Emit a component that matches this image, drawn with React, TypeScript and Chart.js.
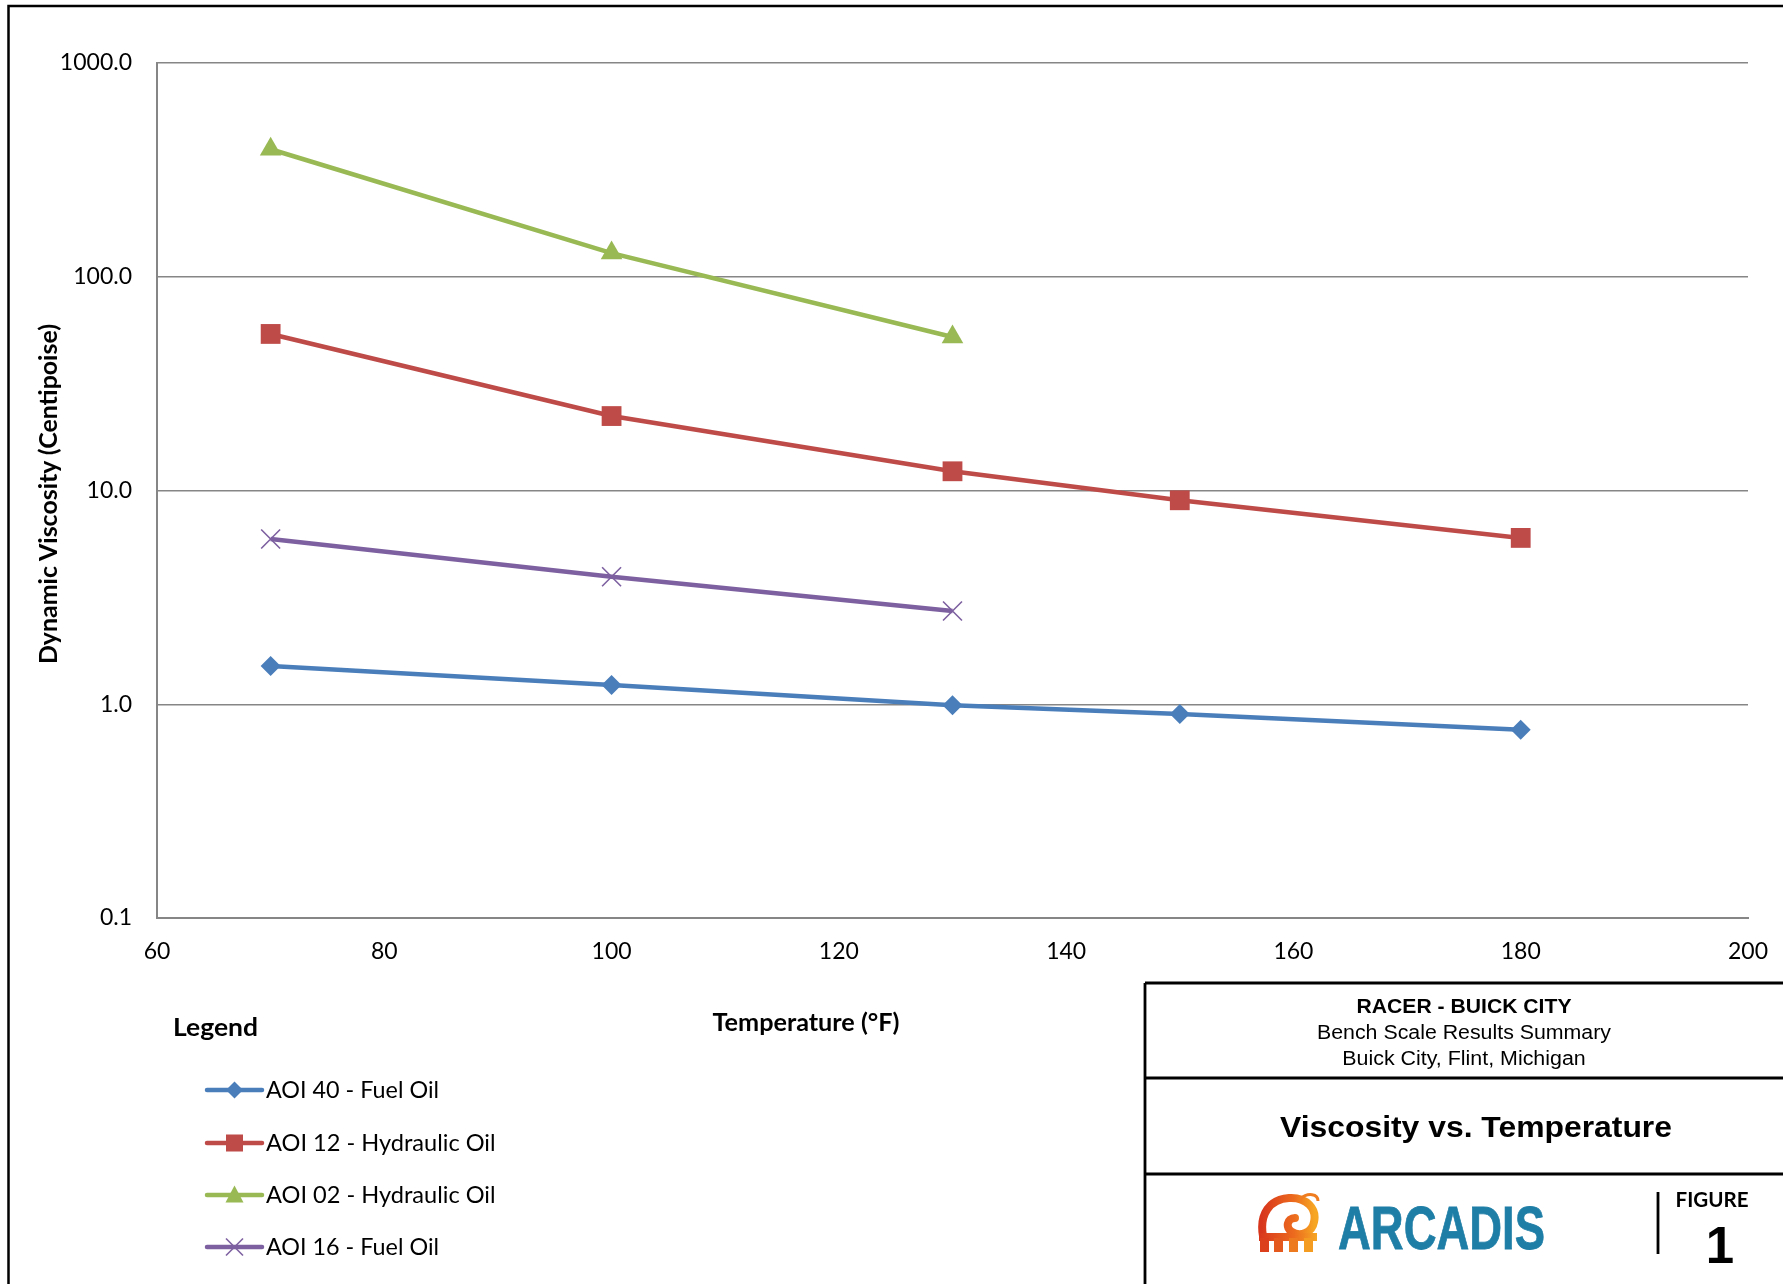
import React, { useEffect, useRef } from "react";
import { Chart, registerables } from "chart.js";

Chart.register(...registerables);

// ---------------- data ----------------
const temperatures = [70, 100, 130, 150, 180];
const aoi40FuelOil = [1.51, 1.23, 0.99, 0.9, 0.76];
const aoi12HydraulicOil = [54, 22.3, 12.3, 9.0, 6.0];
const aoi02HydraulicOil = [395, 129, 52.3];
const aoi16FuelOil = [5.93, 3.95, 2.73];

const seriesNames = [
  "AOI 40 - Fuel Oil",
  "AOI 12 - Hydraulic Oil",
  "AOI 02 - Hydraulic Oil",
  "AOI 16 - Fuel Oil",
];
const seriesValues = [aoi40FuelOil, aoi12HydraulicOil, aoi02HydraulicOil, aoi16FuelOil];

const yTickValues = [0.1, 1, 10, 100, 1000];
const xTickMin = 60;
const xTickMax = 200;
const xTickStep = 20;

const xAxisTitle = "Temperature (°F)";
const yAxisTitle = "Dynamic Viscosity (Centipoise)";
const legendTitle = "Legend";
const titleLines = ["RACER - BUICK CITY", "Bench Scale Results Summary", "Buick City, Flint, Michigan"];
const chartTitle = "Viscosity vs. Temperature";
const figureLabel = "FIGURE";
const figureNumber = "1";
const companyName = "ARCADIS";

// ---------------- styles ----------------
const seriesColors = ["#4A7EBB", "#BE4B48", "#98B954", "#7D60A0"];
const seriesPointStyles = ["rectRot", "rect", "triangle", "crossRot"];
const seriesPointRadius = [10, 14, 12.5, 13.4];
const FONT = "Lato, 'Open Sans', sans-serif";
const ARIAL = "'Liberation Sans', Arial, sans-serif";
const GRID = "#868686";

function LegendMarker({ style, color, cx, cy }: { style: string; color: string; cx: number; cy: number }) {
  const s = 8.5;
  if (style === "rectRot") {
    return <polygon points={`${cx - s},${cy} ${cx},${cy - s} ${cx + s},${cy} ${cx},${cy + s}`} fill={color} />;
  }
  if (style === "rect") {
    return <rect x={cx - s} y={cy - s} width={2 * s} height={2 * s} fill={color} />;
  }
  if (style === "triangle") {
    return <polygon points={`${cx},${cy - s - 1} ${cx + s + 0.5},${cy + s - 1} ${cx - s - 0.5},${cy + s - 1}`} fill={color} />;
  }
  return (
    <g stroke={color} strokeWidth={1.6}>
      <line x1={cx - s} y1={cy - s} x2={cx + s} y2={cy + s} />
      <line x1={cx - s} y1={cy + s} x2={cx + s} y2={cy - s} />
    </g>
  );
}

export default function App() {
  const canvasRef = useRef<HTMLCanvasElement | null>(null);

  useEffect(() => {
    if (!canvasRef.current) return;
    const datasets = seriesNames.map((name, i) => ({
      label: name,
      data: seriesValues[i].map((v, j) => ({ x: temperatures[j], y: v })),
      showLine: true,
      borderColor: seriesColors[i],
      backgroundColor: seriesColors[i],
      borderWidth: 4.6,
      pointStyle: seriesPointStyles[i] as any,
      pointRadius: seriesPointRadius[i],
      pointBorderWidth: seriesPointStyles[i] === "crossRot" ? 1.6 : 0,
      pointBorderColor: seriesColors[i],
      pointBackgroundColor: seriesColors[i],
      tension: 0,
    }));

    const chart = new Chart(canvasRef.current, {
      type: "scatter",
      data: { datasets },
      options: {
        responsive: false,
        maintainAspectRatio: false,
        animation: false,
        layout: { padding: { left: 0, top: 63, right: 35, bottom: 286 } },
        plugins: { legend: { display: false }, tooltip: { enabled: false }, title: { display: false } },
        scales: {
          x: {
            type: "linear",
            min: xTickMin,
            max: xTickMax,
            ticks: {
              stepSize: xTickStep,
              color: "#000",
              font: { family: FONT, size: 23 },
              padding: 20,
              maxRotation: 0,
            },
            grid: { display: false, drawTicks: false },
            border: { display: true, color: GRID, width: 2 },
            afterFit: (s: any) => {
              s.height = 80;
              s.paddingLeft = 0;
              s.paddingRight = 0;
            },
          },
          y: {
            type: "logarithmic",
            min: yTickValues[0],
            max: yTickValues[yTickValues.length - 1],
            afterBuildTicks: (s: any) => {
              s.ticks = yTickValues.map((v) => ({ value: v }));
            },
            ticks: {
              color: "#000",
              font: { family: FONT, size: 23 },
              padding: 25,
              callback: (v: any) => Number(v).toFixed(1),
            },
            grid: { color: GRID, lineWidth: 1.5, drawTicks: false },
            border: { display: true, color: GRID, width: 2 },
            afterFit: (s: any) => {
              s.width = 157;
              s.paddingTop = 0;
              s.paddingBottom = 0;
            },
          },
        },
      },
    });
    return () => chart.destroy();
  }, []);

  const legendRowY = [1090, 1143, 1195, 1247];
  const legendTextLen = [173, 229.6, 229.6, 173];

  return (
    <div style={{ position: "absolute", left: 0, top: 0, width: 1783, height: 1284, overflow: "hidden", background: "#fff" }}>
      <canvas ref={canvasRef} width={1783} height={1284} style={{ position: "absolute", left: 0, top: 0, width: 1783, height: 1284 }} />
      <svg width={1783} height={1284} style={{ position: "absolute", left: 0, top: 0, pointerEvents: "none" }}>
        <defs>
          <linearGradient id="logoGrad" x1="0" y1="0" x2="1" y2="0">
            <stop offset="0" stopColor="#d8361c" />
            <stop offset="0.6" stopColor="#ec6a1e" />
            <stop offset="1" stopColor="#f6a623" />
          </linearGradient>
        </defs>
        {/* outer frame */}
        <rect x={8.5} y={6} width={1820} height={1320} fill="none" stroke="#000" strokeWidth={2.5} />

        {/* axis titles */}
        <text
          transform="translate(56.5, 494) rotate(-90)"
          textAnchor="middle"
          fontFamily={FONT}
          fontWeight="bold"
          fontSize={24}
          textLength={340}
          lengthAdjust="spacingAndGlyphs"
          fill="#000"
        >
          {yAxisTitle}
        </text>
        <text x={806} y={1031} textAnchor="middle" fontFamily={FONT} fontWeight="bold" fontSize={24} textLength={187} lengthAdjust="spacingAndGlyphs" fill="#000">
          {xAxisTitle}
        </text>

        {/* legend */}
        <text x={173} y={1036} fontFamily={FONT} fontWeight="bold" fontSize={25} textLength={85} lengthAdjust="spacingAndGlyphs" fill="#000">
          {legendTitle}
        </text>
        {seriesNames.map((name, i) => (
          <g key={name}>
            <line x1={207} y1={legendRowY[i]} x2={262} y2={legendRowY[i]} stroke={seriesColors[i]} strokeWidth={4.5} strokeLinecap="round" />
            <LegendMarker style={seriesPointStyles[i]} color={seriesColors[i]} cx={234.5} cy={legendRowY[i]} />
            <text x={266} y={legendRowY[i] + 8.3} fontFamily={FONT} fontSize={23} textLength={legendTextLen[i]} lengthAdjust="spacingAndGlyphs" fill="#000">
              {name}
            </text>
          </g>
        ))}

        {/* title block */}
        <g stroke="#000" strokeWidth={2.8}>
          <line x1={1145} y1={983} x2={1145} y2={1300} />
          <line x1={1145} y1={983} x2={1800} y2={983} />
          <line x1={1145} y1={1078} x2={1800} y2={1078} />
          <line x1={1145} y1={1174} x2={1800} y2={1174} />
          <line x1={1658} y1={1192} x2={1658} y2={1254} />
        </g>
        <text x={1464} y={1013} textAnchor="middle" fontFamily={ARIAL} fontWeight="bold" fontSize={20} textLength={215} lengthAdjust="spacingAndGlyphs" fill="#000">
          {titleLines[0]}
        </text>
        <text x={1464} y={1039} textAnchor="middle" fontFamily={ARIAL} fontSize={20} textLength={294} lengthAdjust="spacingAndGlyphs" fill="#000">
          {titleLines[1]}
        </text>
        <text x={1464} y={1065} textAnchor="middle" fontFamily={ARIAL} fontSize={20} textLength={243.5} lengthAdjust="spacingAndGlyphs" fill="#000">
          {titleLines[2]}
        </text>
        <text x={1476} y={1136.5} textAnchor="middle" fontFamily={ARIAL} fontWeight="bold" fontSize={30} textLength={392} lengthAdjust="spacingAndGlyphs" fill="#000">
          {chartTitle}
        </text>
        <text x={1712} y={1207} textAnchor="middle" fontFamily={FONT} fontWeight="bold" fontSize={20} textLength={73} lengthAdjust="spacingAndGlyphs" fill="#000">
          {figureLabel}
        </text>
        <text x={1720} y={1263} textAnchor="middle" fontFamily={ARIAL} fontWeight="bold" fontSize={51} fill="#000">
          {figureNumber}
        </text>

        {/* logo */}
        <g>
          <path
            d="M1263 1236 C1259 1214 1270 1199 1289 1198 C1307 1197 1317 1209 1314 1222 C1312 1233 1300 1237 1292 1232 C1285 1228 1287 1218 1295 1218"
            fill="none"
            stroke="url(#logoGrad)"
            strokeWidth={8}
            strokeLinecap="round"
          />
          <path d="M1300 1199 C1308 1192 1318 1194 1318 1201" fill="none" stroke="#ef7d20" strokeWidth={3} />
          <rect x={1259} y={1233} width={58} height={8} fill="url(#logoGrad)" />
          <rect x={1260} y={1238} width={9} height={14} fill="#db3f1c" />
          <rect x={1274} y={1238} width={9} height={14} fill="#e45a1e" />
          <rect x={1289} y={1238} width={9} height={14} fill="#ee7a1f" />
          <rect x={1304} y={1238} width={9} height={14} fill="#f49b22" />
          <text x={1338} y={1249} fontFamily="'Liberation Sans Narrow', 'Liberation Sans', Arial, sans-serif" fontWeight="bold" fontSize={62} textLength={207} lengthAdjust="spacingAndGlyphs" fill="#1f7ea6" stroke="#1f7ea6" strokeWidth={0.8}>
            {companyName}
          </text>
        </g>
      </svg>
    </div>
  );
}
